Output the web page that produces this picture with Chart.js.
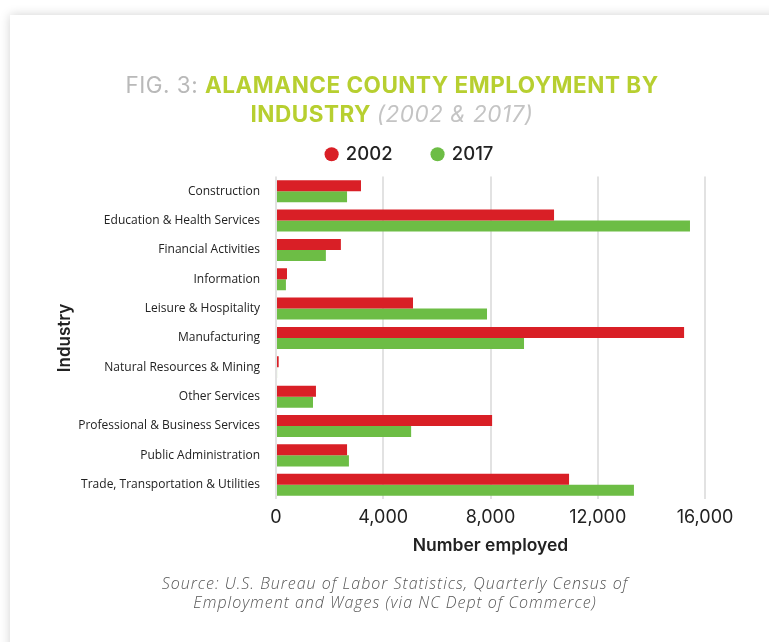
<!DOCTYPE html>
<html>
<head>
<meta charset="utf-8">
<script src="https://cdn.jsdelivr.net/npm/chart.js@4"></script>
<style>
  html,body{margin:0;padding:0;background:#fff;width:769px;height:642px;overflow:hidden;}
  #card{position:absolute;left:10px;top:15px;width:800px;height:700px;background:#fff;box-shadow:0 0 10px rgba(0,0,0,0.18);}
  #wrap{position:absolute;left:0;top:0;width:769px;height:642px;}
  #title{position:absolute;left:0;width:784px;top:70px;text-align:center;font-family:"Inter","DejaVu Sans",sans-serif;font-size:22.5px;line-height:29px;font-weight:700;color:#b7cf30;letter-spacing:0.5px;}
  #title .g{color:#b9b9b9;font-weight:400;}
  #title .i{color:#c4c4c4;font-weight:400;font-style:italic;}
  #source{position:absolute;left:0;width:790px;top:574px;text-align:center;font-family:"Open Sans","Lato",sans-serif;font-style:italic;font-weight:300;font-size:16px;letter-spacing:1px;line-height:19px;color:#555;}
</style>
</head>
<body>
<div id="card"></div>
<div id="wrap"><canvas id="c" width="769" height="642"></canvas></div>
<div id="title"><span class="g">FIG. 3: </span>ALAMANCE COUNTY EMPLOYMENT BY<br>INDUSTRY <span class="i">(2002 &amp; 2017)</span></div>
<div id="source">Source: U.S. Bureau of Labor Statistics, Quarterly Census of<br>Employment and Wages (via NC Dept of Commerce)</div>
<script>
const industries = [
  "Construction",
  "Education & Health Services",
  "Financial Activities",
  "Information",
  "Leisure & Hospitality",
  "Manufacturing",
  "Natural Resources & Mining",
  "Other Services",
  "Professional & Business Services",
  "Public Administration",
  "Trade, Transportation & Utilities"
];
const employed2002 = [3170, 10370, 2420, 410, 5110, 15220, 100, 1490, 8060, 2650, 10930];
const employed2017 = [2650, 15440, 1860, 370, 7870, 9250, 40, 1380, 5040, 2720, 13350];
const seriesNames = ["2002", "2017"];
const xTicks = [0, 4000, 8000, 12000, 16000];

const legendShift = {
  id: 'legendShift',
  beforeDraw(chart) {
    const lg = chart.legend;
    if (lg && !lg._shifted) {
      lg.left += 30; lg.right += 30;
      lg.top -= 3; lg.bottom -= 3;
      lg._shifted = true;
    }
  },
  afterUpdate(chart) { if (chart.legend) chart.legend._shifted = false; }
};

new Chart(document.getElementById('c'), {
  type: 'bar',
  data: {
    labels: industries,
    datasets: [
      {label: seriesNames[0], data: employed2002, backgroundColor: '#d91f26', borderWidth: 0, barPercentage: 1.0, categoryPercentage: 0.75},
      {label: seriesNames[1], data: employed2017, backgroundColor: '#6dbd45', borderWidth: 0, barPercentage: 1.0, categoryPercentage: 0.75}
    ]
  },
  plugins: [legendShift],
  options: {
    indexAxis: 'y',
    responsive: false,
    animation: false,
    devicePixelRatio: 1,
    layout: {padding: {top: 108, right: 64, bottom: 86, left: 55}},
    plugins: {
      title: {display: false},
      tooltip: {enabled: false},
      legend: {
        display: true,
        position: 'top',
        labels: {
          usePointStyle: true,
          pointStyle: 'circle',
          boxWidth: 10,
          boxHeight: 10,
          padding: 40,
          color: '#222',
          font: {family: 'Inter, "DejaVu Sans", sans-serif', size: 18.5, weight: '500'}
        }
      }
    },
    scales: {
      x: {
        type: 'linear',
        min: 0,
        max: 16000,
        afterBuildTicks: (s) => { s.ticks = xTicks.map(v => ({value: v})); },
        grid: {display: true, color: '#e2e2e2', lineWidth: 2, drawTicks: false},
        border: {display: false},
        ticks: {
          padding: 7,
          color: '#222',
          font: {family: 'Inter, "DejaVu Sans", sans-serif', size: 18},
          callback: (v) => v.toLocaleString('en-US')
        },
        title: {display: true, text: 'Number employed', color: '#222', padding: {top: 0, bottom: 0},
          font: {family: 'Inter, "DejaVu Sans", sans-serif', size: 17.5, weight: '600'}}
      },
      y: {
        grid: {display: false},
        border: {display: false},
        ticks: {
          padding: 8,
          color: '#222',
          font: {family: '"Open Sans", "DejaVu Sans", sans-serif', size: 12}
        },
        title: {display: true, text: 'Industry', color: '#222', padding: {top: 0, bottom: 8},
          font: {family: 'Inter, "DejaVu Sans", sans-serif', size: 17, weight: '600'}},
        afterFit: (s) => { s.width = 221; }
      }
    }
  }
});
</script>
</body>
</html>
